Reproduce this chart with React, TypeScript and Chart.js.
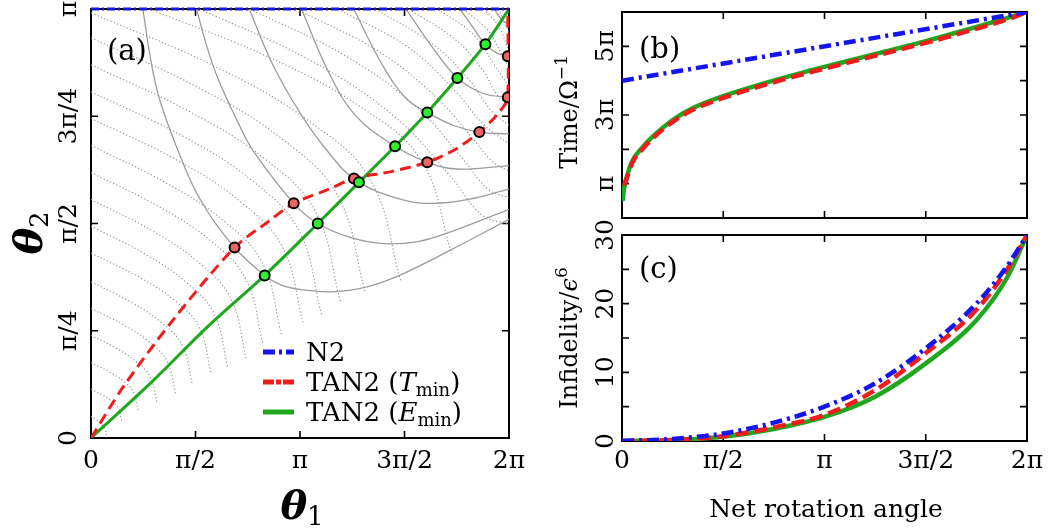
import React, { useEffect, useRef } from "react";
import { Chart, registerables } from "chart.js";

Chart.register(...registerables);

const WIDTH = 1060;
const HEIGHT = 529;
const FONT = '"DejaVu Serif", "Liberation Serif", serif';
const font = (size: number, style = "") => `${style} ${size}px ${FONT}`.trim();

const BLUE = "#1414f0";
const RED = "#f01c1c";
const GREEN = "#1fa81f";
const RED_MARK = "#f06464";
const GREEN_MARK = "#2ef02e";
const GRAY = "#9c9c9c";
const GRAY_DOT = "#8e8e8e";

// ---------- panel (a): (theta1, theta2) plane, both angles in units of pi ----------
const thetaTickValuesX = [0, 0.5, 1, 1.5, 2];
const thetaTickLabelsX = ["0", "π/2", "π", "3π/2", "2π"];
const thetaTickValuesY = [0, 0.25, 0.5, 0.75, 1];
const thetaTickLabelsY = ["0", "π/4", "π/2", "3π/4", "π"];

const n2Path = [[0, 1], [2, 1]];
const tminPath = [
  [0, 0], [0.154, 0.119], [0.394, 0.276], [0.687, 0.444], [0.85, 0.505], [0.97, 0.547],
  [1.133, 0.579], [1.258, 0.605], [1.436, 0.621], [1.609, 0.643], [1.74, 0.672],
  [1.858, 0.713], [1.94, 0.752], [1.994, 0.794], [1.994, 1.0],
];
const eminPath = [
  [0, 0], [0.3, 0.135], [0.557, 0.259], [0.831, 0.379], [1.085, 0.5], [1.282, 0.596],
  [1.455, 0.68], [1.609, 0.759], [1.753, 0.839], [1.887, 0.918], [2.0, 1.0],
];
const tminPoints = [
  [0.687, 0.444], [0.97, 0.547], [1.258, 0.605], [1.609, 0.643], [1.858, 0.713],
  [1.994, 0.794], [1.994, 0.89],
];
const eminPoints = [
  [0.831, 0.379], [1.085, 0.5], [1.282, 0.596], [1.455, 0.68], [1.609, 0.759],
  [1.753, 0.839], [1.887, 0.918],
];

// contours of constant net rotation angle (solid gray)
const rotationContour1 = [
  [0.248, 1.0], [0.29, 0.87], [0.331, 0.785], [0.418, 0.668], [0.523, 0.556], [0.687, 0.444],
  [0.831, 0.379], [0.908, 0.357], [1.004, 0.346], [1.162, 0.341], [1.325, 0.353],
  [1.484, 0.381], [1.724, 0.439], [2.0, 0.51],
];
const rotationContour2 = [
  [0.505, 1.0], [0.55, 0.92], [0.605, 0.841], [0.701, 0.738], [0.778, 0.668], [0.97, 0.547],
  [1.085, 0.5], [1.244, 0.467], [1.402, 0.453], [1.565, 0.458], [1.724, 0.481], [2.0, 0.533],
];
const rotationContour3 = [
  [0.757, 1.0], [0.87, 0.87], [1.004, 0.755], [1.136, 0.666], [1.27, 0.6], [1.484, 0.556],
  [1.642, 0.547], [1.806, 0.556], [2.0, 0.58],
];
const rotationContour4 = [
  [1.007, 1.0], [1.136, 0.854], [1.265, 0.752], [1.455, 0.68], [1.609, 0.643], [1.749, 0.627],
  [2.0, 0.635],
];
const rotationContour5 = [
  [1.257, 1.0], [1.394, 0.87], [1.507, 0.792], [1.609, 0.759], [1.732, 0.729], [1.858, 0.713],
  [2.0, 0.709],
];
const rotationContour6 = [[1.507, 1.0], [1.636, 0.909], [1.753, 0.839], [1.877, 0.803], [2.0, 0.794]];
const rotationContour7 = [[1.765, 1.0], [1.829, 0.956], [1.887, 0.918], [1.942, 0.897], [2.0, 0.89]];
const rotationContour8 = [[1.93, 1.0], [1.965, 0.975], [2.0, 0.965]];

// level lines of the residual error (dotted gray), starting on the left edge
const errorLevel01 = [[0, 0.051], [0.03, 0.041], [0.053, 0.031], [0.068, 0.019], [0.075, 0.0]];
const errorLevel02 = [[0, 0.114], [0.059, 0.099], [0.103, 0.084], [0.132, 0.068], [0.147, 0.039]];
const errorLevel03 = [[0, 0.176], [0.091, 0.153], [0.159, 0.131], [0.204, 0.106], [0.227, 0.063]];
const errorLevel04 = [[0, 0.239], [0.126, 0.208], [0.221, 0.176], [0.284, 0.142], [0.316, 0.082]];
const errorLevel05 = [[0, 0.302], [0.162, 0.262], [0.284, 0.222], [0.365, 0.178], [0.405, 0.102]];
const errorLevel06 = [[0, 0.364], [0.194, 0.316], [0.34, 0.268], [0.437, 0.216], [0.485, 0.125]];
const errorLevel07 = [[0, 0.431], [0.23, 0.375], [0.402, 0.32], [0.517, 0.259], [0.574, 0.153]];
const errorLevel08 = [[0, 0.494], [0.262, 0.428], [0.458, 0.362], [0.589, 0.29], [0.654, 0.165]];
const errorLevel09 = [[0, 0.556], [0.297, 0.482], [0.52, 0.407], [0.669, 0.325], [0.743, 0.184]];
const errorLevel10 = [[0, 0.619], [0.33, 0.538], [0.577, 0.458], [0.742, 0.369], [0.824, 0.216]];
const errorLevel11 = [[0, 0.682], [0.365, 0.593], [0.638, 0.505], [0.821, 0.407], [0.912, 0.239]];
const errorLevel12 = [[0, 0.745], [0.407, 0.649], [0.712, 0.552], [0.915, 0.446], [1.017, 0.263]];
const errorLevel13 = [[0, 0.807], [0.442, 0.703], [0.773, 0.599], [0.994, 0.484], [1.104, 0.286]];
const errorLevel14 = [[0, 0.87], [0.478, 0.759], [0.836, 0.649], [1.075, 0.527], [1.194, 0.317]];
const errorLevel15 = [[0, 0.933], [0.525, 0.814], [0.919, 0.695], [1.182, 0.563], [1.313, 0.337]];
const errorLevel16 = [[0, 0.991], [0.594, 0.866], [1.039, 0.74], [1.336, 0.602], [1.484, 0.364]];
// level lines starting on the top edge
const errorLevelTop01 = [[0.28, 1.0], [0.858, 0.886], [1.292, 0.771], [1.581, 0.646], [1.726, 0.429]];
const errorLevelTop02 = [[0.52, 1.0], [1.05, 0.88], [1.45, 0.75], [1.72, 0.61], [1.87, 0.52], [2.0, 0.498]];
const errorLevelTop03 = [[0.76, 1.0], [1.22, 0.89], [1.56, 0.77], [1.78, 0.65], [1.9, 0.58], [2.0, 0.56]];
const errorLevelTop04 = [[0.98, 1.0], [1.38, 0.9], [1.66, 0.79], [1.84, 0.69], [1.93, 0.64], [2.0, 0.623]];
const errorLevelTop05 = [[1.18, 1.0], [1.52, 0.91], [1.74, 0.81], [1.88, 0.73], [2.0, 0.686]];
const errorLevelTop06 = [[1.36, 1.0], [1.63, 0.92], [1.8, 0.84], [1.92, 0.76], [2.0, 0.729]];
const errorLevelTop07 = [[1.52, 1.0], [1.74, 0.93], [1.87, 0.86], [1.95, 0.795], [2.0, 0.776]];
const errorLevelTop08 = [[1.66, 1.0], [1.83, 0.94], [1.93, 0.87], [2.0, 0.819]];
const errorLevelTop09 = [[1.78, 1.0], [1.9, 0.95], [1.97, 0.89], [2.0, 0.862]];
const errorLevelTop10 = [[1.88, 1.0], [1.95, 0.96], [2.0, 0.901]];
const errorLevelTop11 = [[1.95, 1.0], [2.0, 0.944]];
const errorLevelTop12 = [[1.985, 1.0], [2.0, 0.987]];

// ---------- panel (b): sequence duration vs net rotation angle (both in units of pi) ----------
const netAngleTicks = [0, 0.5, 1, 1.5, 2];
const netAngleLabels = ["0", "π/2", "π", "3π/2", "2π"];
const timeTicks = [1, 2, 3, 4, 5];
const timeTickLabels = ["π", "", "3π", "", "5π"];

const timeN2Angle = [0, 2];
const timeN2 = [4, 6];
const timeTminAngle = [0.01, 0.02, 0.05, 0.1, 0.15, 0.25, 0.35, 0.5, 0.7, 0.9, 1.1, 1.3, 1.5, 1.7, 1.9, 2.0];
const timeTmin = [0.95, 1.1, 1.6, 2.0, 2.31, 2.8, 3.15, 3.5, 3.87, 4.2, 4.5, 4.8, 5.1, 5.43, 5.78, 6.0];
const timeEminAngle = [0.003, 0.01, 0.02, 0.05, 0.1, 0.15, 0.25, 0.35, 0.5, 0.7, 0.9, 1.1, 1.3, 1.5, 1.7, 1.9, 2.0];
const timeEmin = [0.5, 0.85, 1.12, 1.65, 2.05, 2.36, 2.85, 3.2, 3.55, 3.92, 4.25, 4.55, 4.85, 5.15, 5.48, 5.82, 6.0];

// ---------- panel (c): infidelity / eps^6 vs net rotation angle ----------
const infidTicks = [0, 5, 10, 15, 20, 25, 30];
const infidTickLabels = ["0", "", "10", "", "20", "", "30"];
const infidAngle = [0, 0.25, 0.5, 0.75, 1.0, 1.25, 1.5, 1.75, 1.9, 2.0];
const infidN2 = [0, 0.3, 1.1, 2.67, 5.0, 8.4, 13.5, 20.0, 25.4, 30];
const infidTmin = [0, 0.15, 0.7, 1.99, 3.8, 7.4, 12.8, 19.1, 24.9, 30];
const infidEmin = [0, 0.12, 0.63, 1.75, 3.5, 6.45, 11.3, 17.6, 23.7, 30];

// ---------- helpers ----------
const xy = (pairs: number[][]) => pairs.map(([x, y]) => ({ x, y }));
const zip = (xs: number[], ys: number[]) => xs.map((x, i) => ({ x, y: ys[i] }));

type Seg = { t: string; font: string; dy?: number };
type Label = { segs: Seg[]; x: number; y: number; rot?: number; align?: "center" | "left" };

function drawRich(ctx: CanvasRenderingContext2D, l: Label) {
  ctx.save();
  ctx.translate(l.x, l.y);
  if (l.rot) ctx.rotate(l.rot);
  ctx.textAlign = "left";
  ctx.textBaseline = "alphabetic";
  let total = 0;
  const widths = l.segs.map((s) => {
    ctx.font = s.font;
    const w = ctx.measureText(s.t).width;
    total += w;
    return w;
  });
  let cx = l.align === "left" ? 0 : -total / 2;
  l.segs.forEach((s, i) => {
    ctx.font = s.font;
    ctx.fillText(s.t, cx, s.dy || 0);
    cx += widths[i];
  });
  ctx.restore();
}

interface FrameSpec {
  xTicks: number[];
  yTicks: number[];
  xLabels?: string[];
  yLabels?: string[];
  xLabelY?: number;
  yLabelX?: number;
  labels: Label[];
  legend?: boolean;
}

const TICK = 7;
const TICK_FONT = font(25);

function drawLegendA(ctx: CanvasRenderingContext2D) {
  const rows = [
    { y: 352, color: BLUE, dash: [12, 4, 3, 4], segs: [{ t: "N2", font: font(26) }] },
    {
      y: 382, color: RED, dash: [11, 2, 5, 2],
      segs: [
        { t: "TAN2 (", font: font(26) },
        { t: "T", font: font(26, "italic") },
        { t: "min", font: font(18), dy: 5 },
        { t: ")", font: font(26) },
      ],
    },
    {
      y: 412, color: GREEN, dash: [],
      segs: [
        { t: "TAN2 (", font: font(26) },
        { t: "E", font: font(26, "italic") },
        { t: "min", font: font(18), dy: 5 },
        { t: ")", font: font(26) },
      ],
    },
  ];
  ctx.save();
  for (const r of rows) {
    ctx.strokeStyle = r.color;
    ctx.lineWidth = 5;
    ctx.setLineDash(r.dash);
    ctx.beginPath();
    ctx.moveTo(263, r.y);
    ctx.lineTo(294, r.y);
    ctx.stroke();
    ctx.setLineDash([]);
    ctx.fillStyle = "#000";
    drawRich(ctx, { segs: r.segs, x: 306, y: r.y + 9, align: "left" });
  }
  ctx.restore();
}

function framePlugin(spec: FrameSpec) {
  return {
    id: "panelFrame",
    beforeDatasetsDraw(chart: any) {
      const { ctx, chartArea: a } = chart;
      const sx = chart.scales.x;
      const sy = chart.scales.y;
      ctx.save();
      ctx.strokeStyle = "#000";
      ctx.lineWidth = 1.6;
      ctx.beginPath();
      for (const v of spec.xTicks) {
        const px = sx.getPixelForValue(v);
        ctx.moveTo(px, a.bottom);
        ctx.lineTo(px, a.bottom - TICK);
        ctx.moveTo(px, a.top);
        ctx.lineTo(px, a.top + TICK);
      }
      for (const v of spec.yTicks) {
        const py = sy.getPixelForValue(v);
        ctx.moveTo(a.left, py);
        ctx.lineTo(a.left + TICK, py);
        ctx.moveTo(a.right, py);
        ctx.lineTo(a.right - TICK, py);
      }
      ctx.stroke();
      ctx.lineWidth = 2;
      ctx.strokeRect(a.left, a.top, a.right - a.left, a.bottom - a.top);
      ctx.restore();
    },
    afterDraw(chart: any) {
      const { ctx } = chart;
      const sx = chart.scales.x;
      const sy = chart.scales.y;
      ctx.save();
      ctx.fillStyle = "#000";
      ctx.font = TICK_FONT;
      ctx.textAlign = "center";
      ctx.textBaseline = "middle";
      if (spec.xLabels) {
        spec.xTicks.forEach((v, i) => {
          const t = spec.xLabels![i];
          if (t) ctx.fillText(t, sx.getPixelForValue(v), spec.xLabelY!);
        });
      }
      if (spec.yLabels) {
        spec.yTicks.forEach((v, i) => {
          const t = spec.yLabels![i];
          if (!t) return;
          ctx.save();
          ctx.translate(spec.yLabelX!, sy.getPixelForValue(v));
          ctx.rotate(-Math.PI / 2);
          ctx.fillText(t, 0, 0);
          ctx.restore();
        });
      }
      for (const l of spec.labels) drawRich(ctx, l);
      if (spec.legend) drawLegendA(ctx);
      ctx.restore();
    },
  };
}

function baseOptions(padding: any, yMax: number) {
  return {
    responsive: false,
    animation: false,
    devicePixelRatio: 1,
    events: [],
    layout: { padding },
    plugins: { legend: { display: false }, tooltip: { enabled: false } },
    scales: {
      x: { type: "linear", min: 0, max: 2, display: false },
      y: { type: "linear", min: 0, max: yMax, display: false },
    },
  };
}

const dottedLevels = [
  errorLevel01, errorLevel02, errorLevel03, errorLevel04, errorLevel05, errorLevel06,
  errorLevel07, errorLevel08, errorLevel09, errorLevel10, errorLevel11, errorLevel12,
  errorLevel13, errorLevel14, errorLevel15, errorLevel16,
  errorLevelTop01, errorLevelTop02, errorLevelTop03, errorLevelTop04, errorLevelTop05,
  errorLevelTop06, errorLevelTop07, errorLevelTop08, errorLevelTop09, errorLevelTop10,
  errorLevelTop11, errorLevelTop12,
];
const rotationContours = [
  rotationContour1, rotationContour2, rotationContour3, rotationContour4,
  rotationContour5, rotationContour6, rotationContour7, rotationContour8,
];

function buildPanelA() {
  return {
    type: "line",
    data: {
      datasets: [
        ...dottedLevels.map((c) => ({
          data: xy(c), borderColor: GRAY_DOT, borderWidth: 1.1, borderDash: [1.2, 2.3],
          pointRadius: 0, tension: 0.4, fill: false, order: 20,
        })),
        ...rotationContours.map((c) => ({
          data: xy(c), borderColor: GRAY, borderWidth: 1.3, pointRadius: 0, tension: 0.4,
          fill: false, order: 15,
        })),
        { data: xy(eminPath), borderColor: GREEN, borderWidth: 3, pointRadius: 0, tension: 0.3, order: 6 },
        {
          data: xy(tminPath), borderColor: RED, borderWidth: 3, borderDash: [11, 6], pointRadius: 0,
          tension: 0.3, order: 5,
        },
        {
          data: xy(n2Path), borderColor: BLUE, borderWidth: 3, borderDash: [8, 3, 2, 3], pointRadius: 0,
          clip: 3, order: 4,
        },
        {
          data: xy(tminPoints), showLine: false, pointRadius: 5, pointBackgroundColor: RED_MARK,
          pointBorderColor: "#000", pointBorderWidth: 2, order: 2,
        },
        {
          data: xy(eminPoints), showLine: false, pointRadius: 5, pointBackgroundColor: GREEN_MARK,
          pointBorderColor: "#000", pointBorderWidth: 2, order: 1,
        },
      ],
    },
    options: baseOptions({ left: 91, top: 9, right: WIDTH - 509, bottom: HEIGHT - 438 }, 1),
    plugins: [
      framePlugin({
        xTicks: thetaTickValuesX,
        yTicks: thetaTickValuesY,
        xLabels: thetaTickLabelsX,
        yLabels: thetaTickLabelsY,
        xLabelY: 461,
        yLabelX: 69,
        legend: true,
        labels: [
          { segs: [{ t: "(a)", font: font(29) }], x: 107, y: 60, align: "left" },
          {
            segs: [{ t: "θ", font: font(40, "bold italic") }, { t: "1", font: font(26), dy: 6 }],
            x: 302, y: 519,
          },
          {
            segs: [{ t: "θ", font: font(40, "bold italic") }, { t: "2", font: font(26), dy: 6 }],
            x: 42, y: 233, rot: -Math.PI / 2,
          },
        ],
      }),
    ],
  };
}

function buildPanelB() {
  return {
    type: "line",
    data: {
      datasets: [
        {
          data: zip(timeEminAngle, timeEmin), borderColor: GREEN, borderWidth: 4.5, pointRadius: 0,
          cubicInterpolationMode: "monotone", order: 3,
        },
        {
          data: zip(timeTminAngle, timeTmin), borderColor: RED, borderWidth: 4.5, borderDash: [13, 6],
          pointRadius: 0, cubicInterpolationMode: "monotone", order: 2,
        },
        {
          data: zip(timeN2Angle, timeN2), borderColor: BLUE, borderWidth: 4.5, borderDash: [12, 5, 3, 5],
          pointRadius: 0, order: 1,
        },
      ],
    },
    options: baseOptions({ left: 622, top: 12, right: WIDTH - 1027, bottom: HEIGHT - 218 }, 6),
    plugins: [
      framePlugin({
        xTicks: netAngleTicks,
        yTicks: timeTicks,
        yLabels: timeTickLabels,
        yLabelX: 606,
        labels: [
          { segs: [{ t: "(b)", font: font(29) }], x: 639, y: 58, align: "left" },
          {
            segs: [{ t: "Time/Ω", font: font(24) }, { t: "−1", font: font(17), dy: -10 }],
            x: 577, y: 112, rot: -Math.PI / 2,
          },
        ],
      }),
    ],
  };
}

function buildPanelC() {
  return {
    type: "line",
    data: {
      datasets: [
        {
          data: zip(infidAngle, infidEmin), borderColor: GREEN, borderWidth: 4.5, pointRadius: 0,
          cubicInterpolationMode: "monotone", order: 3,
        },
        {
          data: zip(infidAngle, infidTmin), borderColor: RED, borderWidth: 4.5, borderDash: [13, 6],
          pointRadius: 0, cubicInterpolationMode: "monotone", order: 2,
        },
        {
          data: zip(infidAngle, infidN2), borderColor: BLUE, borderWidth: 4.5, borderDash: [12, 5, 3, 5],
          pointRadius: 0, cubicInterpolationMode: "monotone", order: 1,
        },
      ],
    },
    options: baseOptions({ left: 622, top: 235, right: WIDTH - 1027, bottom: HEIGHT - 441 }, 30),
    plugins: [
      framePlugin({
        xTicks: netAngleTicks,
        yTicks: infidTicks,
        xLabels: netAngleLabels,
        yLabels: infidTickLabels,
        xLabelY: 461,
        yLabelX: 606,
        labels: [
          { segs: [{ t: "(c)", font: font(29) }], x: 639, y: 278, align: "left" },
          {
            segs: [
              { t: "Infidelity/", font: font(24) },
              { t: "ϵ", font: font(24, "italic") },
              { t: "6", font: font(17), dy: -10 },
            ],
            x: 577, y: 338, rot: -Math.PI / 2,
          },
          { segs: [{ t: "Net rotation angle", font: font(25) }], x: 826, y: 517 },
        ],
      }),
    ],
  };
}

function ChartLayer({ build }: { build: () => any }) {
  const ref = useRef<HTMLCanvasElement>(null);
  useEffect(() => {
    const chart = new Chart(ref.current as HTMLCanvasElement, build());
    return () => chart.destroy();
  }, [build]);
  return (
    <canvas
      ref={ref}
      width={WIDTH}
      height={HEIGHT}
      style={{ position: "absolute", left: 0, top: 0, width: WIDTH, height: HEIGHT }}
    />
  );
}

export default function App() {
  return (
    <div
      style={{
        position: "fixed", left: 0, top: 0, width: WIDTH, height: HEIGHT,
        background: "#ffffff", overflow: "hidden",
      }}
    >
      <ChartLayer build={buildPanelA} />
      <ChartLayer build={buildPanelB} />
      <ChartLayer build={buildPanelC} />
    </div>
  );
}
